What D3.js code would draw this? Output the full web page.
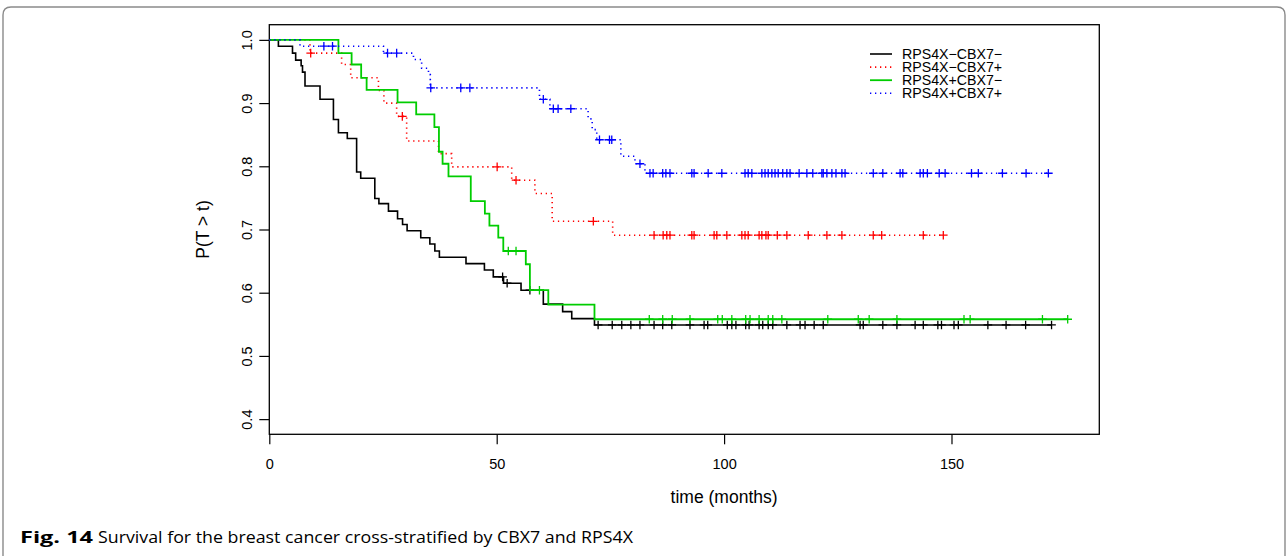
<!DOCTYPE html>
<html><head><meta charset="utf-8">
<script src="https://cdn.jsdelivr.net/npm/d3@7"></script>
<style>body{margin:0;background:#fff;} svg{display:block;}</style>
</head><body><svg id="c" width="1288" height="556"></svg>
<script>
// ---- data ----
const groupNames = ["RPS4X\u2212CBX7\u2212", "RPS4X\u2212CBX7+", "RPS4X+CBX7\u2212", "RPS4X+CBX7+"];
const groupColors = ["#000000", "#FF0000", "#00CD00", "#0000FF"];
const xTickValues = [0, 50, 100, 150];
const yTickValues = [0.4, 0.5, 0.6, 0.7, 0.8, 0.9, 1.0];
const xLabel = "time (months)";
const yLabel = "P(T > t)";

// group 1: RPS4X-CBX7-
const g1Times = [2.0, 5.1, 5.8, 7.0, 7.3, 7.85, 11.15, 14.1, 15.2, 17.15, 19.2, 20.1, 23.2, 24.1, 26.2, 28.2, 29.3, 30.3, 33.3, 35.3, 36.4, 37.4, 43.25, 47.3, 49.25, 51.5, 55.35, 60.25, 64.5, 66.5, 71.5];
const g1Surv  = [0.990, 0.979, 0.968, 0.959, 0.949, 0.927, 0.906, 0.874, 0.853, 0.844, 0.791, 0.781, 0.749, 0.741, 0.729, 0.717, 0.708, 0.698, 0.687, 0.677, 0.666, 0.656, 0.646, 0.636, 0.625, 0.615, 0.604, 0.582, 0.570, 0.559, 0.549];
const g1Censor = [51.3, 52.3, 57.3, 72.3, 75.4, 77.5, 79.5, 81.5, 84.6, 86.5, 88.5, 92.5, 95.6, 96.4, 100.7, 101.7, 102.6, 104.75, 105.5, 107.7, 108.5, 109.7, 110.7, 113.8, 116.7, 117.8, 119.8, 121.8, 129.9, 130.6, 134.9, 138.0, 142.0, 143.8, 147.0, 147.8, 150.55, 151.5, 158.0, 162.0, 166.3, 172.0];

// group 2: RPS4X-CBX7+
const g2Times = [8.95, 15.9, 17.9, 24.0, 25.2, 28.0, 30.2, 37.2, 40.1, 53.3, 58.4, 62.2, 75.5];
const g2Surv  = [0.979, 0.961, 0.940, 0.920, 0.900, 0.879, 0.840, 0.820, 0.799, 0.778, 0.757, 0.713, 0.691];
const g2Censor = [9.1, 29.25, 50.1, 54.25, 71.25, 84.6, 86.6, 87.4, 88.1, 92.9, 93.4, 97.8, 98.4, 100.6, 103.9, 104.6, 105.3, 107.7, 108.3, 109.2, 109.7, 111.7, 113.8, 118.5, 122.6, 125.9, 132.8, 134.65, 143.8, 148.2];

// group 3: RPS4X+CBX7-
const g3Times = [15.2, 18.1, 20.2, 21.4, 28.2, 32.3, 36.3, 37.3, 38.1, 39.4, 44.3, 47.4, 48.4, 50.35, 51.45, 56.4, 57.3, 61.35, 71.5];
const g3Surv  = [0.979, 0.961, 0.940, 0.921, 0.901, 0.882, 0.862, 0.823, 0.804, 0.784, 0.745, 0.725, 0.706, 0.687, 0.666, 0.645, 0.604, 0.581, 0.558];
const g3Censor = [52.55, 54.25, 59.4, 83.55, 86.5, 88.6, 92.5, 98.6, 99.6, 101.7, 104.75, 105.7, 107.7, 109.7, 110.7, 112.7, 122.8, 129.5, 131.9, 138.0, 152.75, 154.1, 170.0, 175.55];

// group 4: RPS4X+CBX7+
const g4Times = [6.75, 25.1, 31.7, 33.5, 35.0, 35.4, 59.4, 61.7, 70.1, 71.0, 72.0, 77.3, 80.4, 82.6];
const g4Surv  = [0.990, 0.979, 0.969, 0.955, 0.945, 0.924, 0.906, 0.891, 0.875, 0.858, 0.842, 0.816, 0.804, 0.789];
const g4Censor = [12.0, 13.9, 26.0, 28.0, 35.5, 42.1, 44.1, 60.25, 62.45, 63.5, 66.3, 72.6, 74.8, 75.3, 81.5, 83.7, 84.4, 86.5, 87.2, 88.1, 92.9, 93.4, 96.5, 99.5, 104.6, 105.3, 106.1, 108.3, 109.0, 109.7, 110.5, 111.2, 111.9, 112.9, 113.8, 114.5, 116.5, 118.2, 119.5, 121.5, 121.8, 122.6, 123.7, 124.6, 125.9, 126.6, 132.8, 134.9, 138.7, 139.3, 143.1, 143.8, 144.7, 147.3, 148.6, 154.4, 155.9, 161.2, 166.4, 171.3];

const groupTimes = [g1Times, g2Times, g3Times, g4Times];
const groupSurv = [g1Surv, g2Surv, g3Surv, g4Surv];
const groupCensor = [g1Censor, g2Censor, g3Censor, g4Censor];

// ---- drawing ----
const svg = d3.select("#c");
const FONT = "'Liberation Sans', Arial, Helvetica, sans-serif";

// figure frame
svg.append("path")
  .attr("d", "M3,556 L3,15 Q3,7 11,7 L1277,7 Q1285,7 1285,15 L1285,556")
  .attr("fill", "none").attr("stroke", "#8a8a8a").attr("stroke-width", 1.4);

const pLeft = 269.3, pRight = 1099.3, pTop = 24.7, pBottom = 434.3;
const x = d3.scaleLinear().domain([0, 182.5]).range([pLeft, pRight]);
const y = d3.scaleLinear().domain([0.376, 1.024]).range([pBottom, pTop]);

// axes
const xAxis = svg.append("g").attr("transform", `translate(0,${pBottom})`)
  .call(d3.axisBottom(x).tickValues(xTickValues).tickFormat(d3.format("d")).tickSize(10).tickPadding(14));
const yAxis = svg.append("g").attr("transform", `translate(${pLeft},0)`)
  .call(d3.axisLeft(y).tickValues(yTickValues).tickFormat(d3.format(".1f")).tickSize(10).tickPadding(0));
[xAxis, yAxis].forEach(a => {
  a.select(".domain").remove();
  a.selectAll("line").attr("stroke", "#000").attr("stroke-width", 1.2);
  a.selectAll("text").attr("font-family", FONT).attr("font-size", 14.5).attr("fill", "#000");
});
yAxis.selectAll(".tick text")
  .attr("x", null).attr("text-anchor", "middle")
  .attr("transform", "translate(-22,0) rotate(-90)")
  .attr("dy", "0.35em");

// plot box
svg.append("rect").attr("x", pLeft).attr("y", pTop).attr("width", pRight - pLeft).attr("height", pBottom - pTop)
  .attr("fill", "none").attr("stroke", "#000").attr("stroke-width", 1.3);

// axis titles
svg.append("text").attr("x", x(100)).attr("y", 503).attr("text-anchor", "middle")
  .attr("font-family", FONT).attr("font-size", 17.5).text(xLabel);
svg.append("text").attr("transform", `translate(209,${y(0.7)}) rotate(-90)`).attr("text-anchor", "middle")
  .attr("font-family", FONT).attr("font-size", 17.5).text(yLabel);

const dashes = [null, "1.3 3.7", null, "1.3 3.7"];
const widths = [1.6, 1.6, 1.8, 1.6];

function survAt(times, surv, t) {
  let s = 1;
  for (let i = 0; i < times.length; i++) { if (times[i] <= t) s = surv[i]; }
  return s;
}

const line = d3.line().x(d => x(d[0])).y(d => y(d[1])).curve(d3.curveStepAfter);

groupNames.forEach((name, gi) => {
  const times = groupTimes[gi], surv = groupSurv[gi], cens = groupCensor[gi];
  const tEnd = d3.max([d3.max(times), d3.max(cens)]);
  const pts = [[0, 1]].concat(times.map((t, i) => [t, surv[i]]));
  pts.push([tEnd, surv[surv.length - 1]]);
  const g = svg.append("g");
  g.append("path").attr("d", line(pts)).attr("fill", "none")
    .attr("stroke", groupColors[gi]).attr("stroke-width", widths[gi])
    .attr("stroke-dasharray", dashes[gi]);
  cens.forEach(t => {
    const cx = x(t), cy = y(survAt(times, surv, t));
    g.append("path").attr("d", `M${cx - 4.3},${cy}H${cx + 4.3}M${cx},${cy - 4.3}V${cy + 4.3}`)
      .attr("stroke", groupColors[gi]).attr("stroke-width", 1.3).attr("fill", "none");
  });
});

// legend
const leg = svg.append("g");
groupNames.forEach((name, i) => {
  const ly = 54 + i * 13.1;
  leg.append("line").attr("x1", 870).attr("x2", 892).attr("y1", ly).attr("y2", ly)
    .attr("stroke", groupColors[i]).attr("stroke-width", widths[i]).attr("stroke-dasharray", dashes[i]);
  leg.append("text").attr("x", 902).attr("y", ly).attr("dy", "0.35em")
    .attr("font-family", FONT).attr("font-size", 14.2).text(name);
});

// caption
const CAP = "'Open Sans', 'Noto Sans', sans-serif";
svg.append("text").attr("x", 20).attr("y", 543).attr("font-family", CAP).attr("font-weight", "bold")
  .attr("font-size", 16).attr("textLength", 73).attr("lengthAdjust", "spacingAndGlyphs").text("Fig. 14");
svg.append("text").attr("x", 98).attr("y", 543).attr("font-family", CAP)
  .attr("font-size", 16).attr("textLength", 535).attr("lengthAdjust", "spacingAndGlyphs")
  .text("Survival for the breast cancer cross-stratified by CBX7 and RPS4X");
</script></body></html>
